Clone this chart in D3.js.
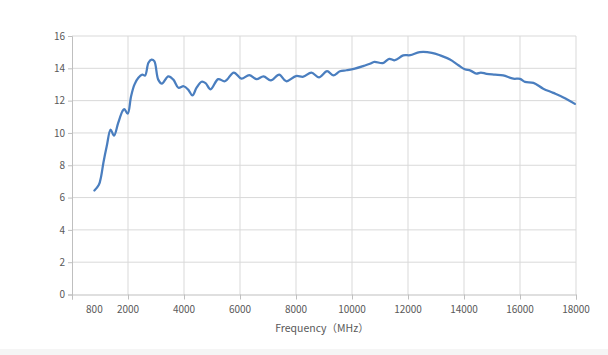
<!DOCTYPE html>
<html><head><meta charset="utf-8">
<script src="https://cdn.jsdelivr.net/npm/d3@7"></script>
<style>
html,body{margin:0;padding:0;background:#fff;}
svg{display:block;}
text{font-family:"Noto Sans CJK SC","Noto Sans",sans-serif;fill:#595959;}
</style></head>
<body>
<svg id="chart" width="608" height="355"></svg>
<script>
const frequency = [800,960,1040,1120,1240,1380,1500,1650,1800,1870,1990,2110,2230,2370,2510,2610,2730,2840,2940,3080,3210,3440,3620,3800,3990,4150,4300,4450,4630,4770,4950,5220,5460,5780,6050,6330,6590,6840,7100,7400,7650,8000,8260,8550,8820,9110,9330,9570,9800,10100,10420,10640,10800,11100,11330,11530,11830,12080,12420,12850,13150,13500,13800,14030,14230,14440,14600,14810,15110,15400,15760,16000,16180,16480,16830,17190,17550,17960];
const gain = [6.44,6.79,7.31,8.14,9.17,10.2,9.83,10.62,11.34,11.48,11.19,12.27,12.99,13.41,13.61,13.55,14.34,14.54,14.44,13.3,13.05,13.5,13.3,12.8,12.89,12.68,12.32,12.8,13.17,13.08,12.7,13.33,13.2,13.74,13.36,13.58,13.33,13.5,13.25,13.61,13.2,13.52,13.48,13.74,13.44,13.82,13.56,13.82,13.88,13.98,14.15,14.28,14.4,14.32,14.59,14.5,14.8,14.81,15.0,14.96,14.8,14.54,14.19,13.94,13.86,13.67,13.74,13.66,13.61,13.56,13.36,13.35,13.16,13.1,12.74,12.48,12.2,11.8];
const xTicks = [800,2000,4000,6000,8000,10000,12000,14000,16000,18000];
const xGrid = [2000,4000,6000,8000,10000,12000,14000,16000,18000];
const yTicks = [0,2,4,6,8,10,12,14,16];
const xTitle = "Frequency（MHz）";

const svg = d3.select("#chart");
svg.append("rect").attr("x",0).attr("y",349).attr("width",608).attr("height",6).attr("fill","#f5f5f5");

const x = d3.scaleLinear().domain([0,18000]).range([72,576]);
const y = d3.scaleLinear().domain([0,16]).range([294.5,36]);

// horizontal grid
svg.append("g").selectAll("line").data(yTicks.filter(d=>d>0)).join("line")
  .attr("x1",72).attr("x2",576).attr("y1",d=>y(d)).attr("y2",d=>y(d))
  .attr("stroke","#d9d9d9").attr("stroke-width",1);
// vertical grid
svg.append("g").selectAll("line").data(xGrid).join("line")
  .attr("x1",d=>x(d)).attr("x2",d=>x(d)).attr("y1",y(16)).attr("y2",y(0))
  .attr("stroke","#d9d9d9").attr("stroke-width",1);

// x axis
const xAxis = svg.append("g").attr("transform",`translate(0,${y(0)})`)
  .call(d3.axisBottom(x).tickValues([0].concat(xGrid)).tickSize(5).tickFormat(""));
xAxis.select(".domain").attr("stroke","#bfbfbf");
xAxis.selectAll(".tick line").attr("stroke","#bfbfbf");
svg.append("g").selectAll("text").data(xTicks).join("text")
  .attr("x",d=>x(d)).attr("y",313).attr("text-anchor","middle")
  .attr("font-size",10).text(d=>d);

// y axis
const yAxis = svg.append("g").attr("transform","translate(72,0)")
  .call(d3.axisLeft(y).tickValues(yTicks).tickSize(4).tickPadding(3));
yAxis.select(".domain").attr("stroke","#bfbfbf");
yAxis.selectAll(".tick line").attr("stroke","#bfbfbf");
yAxis.selectAll(".tick text").attr("font-size",10).style("font-family",'"Noto Sans CJK SC","Noto Sans",sans-serif').attr("fill","#595959");

svg.append("text").attr("x",322).attr("y",332).attr("text-anchor","middle")
  .attr("font-size",10.5).text(xTitle);

const line = d3.line().x((d,i)=>x(frequency[i])).y(d=>y(d)).curve(d3.curveCatmullRom.alpha(0.5));
svg.append("path").datum(gain).attr("d",line).attr("fill","none")
  .attr("stroke","#4a7ebf").attr("stroke-width",2.25).attr("stroke-linejoin","round").attr("stroke-linecap","round");
</script>
</body></html>
